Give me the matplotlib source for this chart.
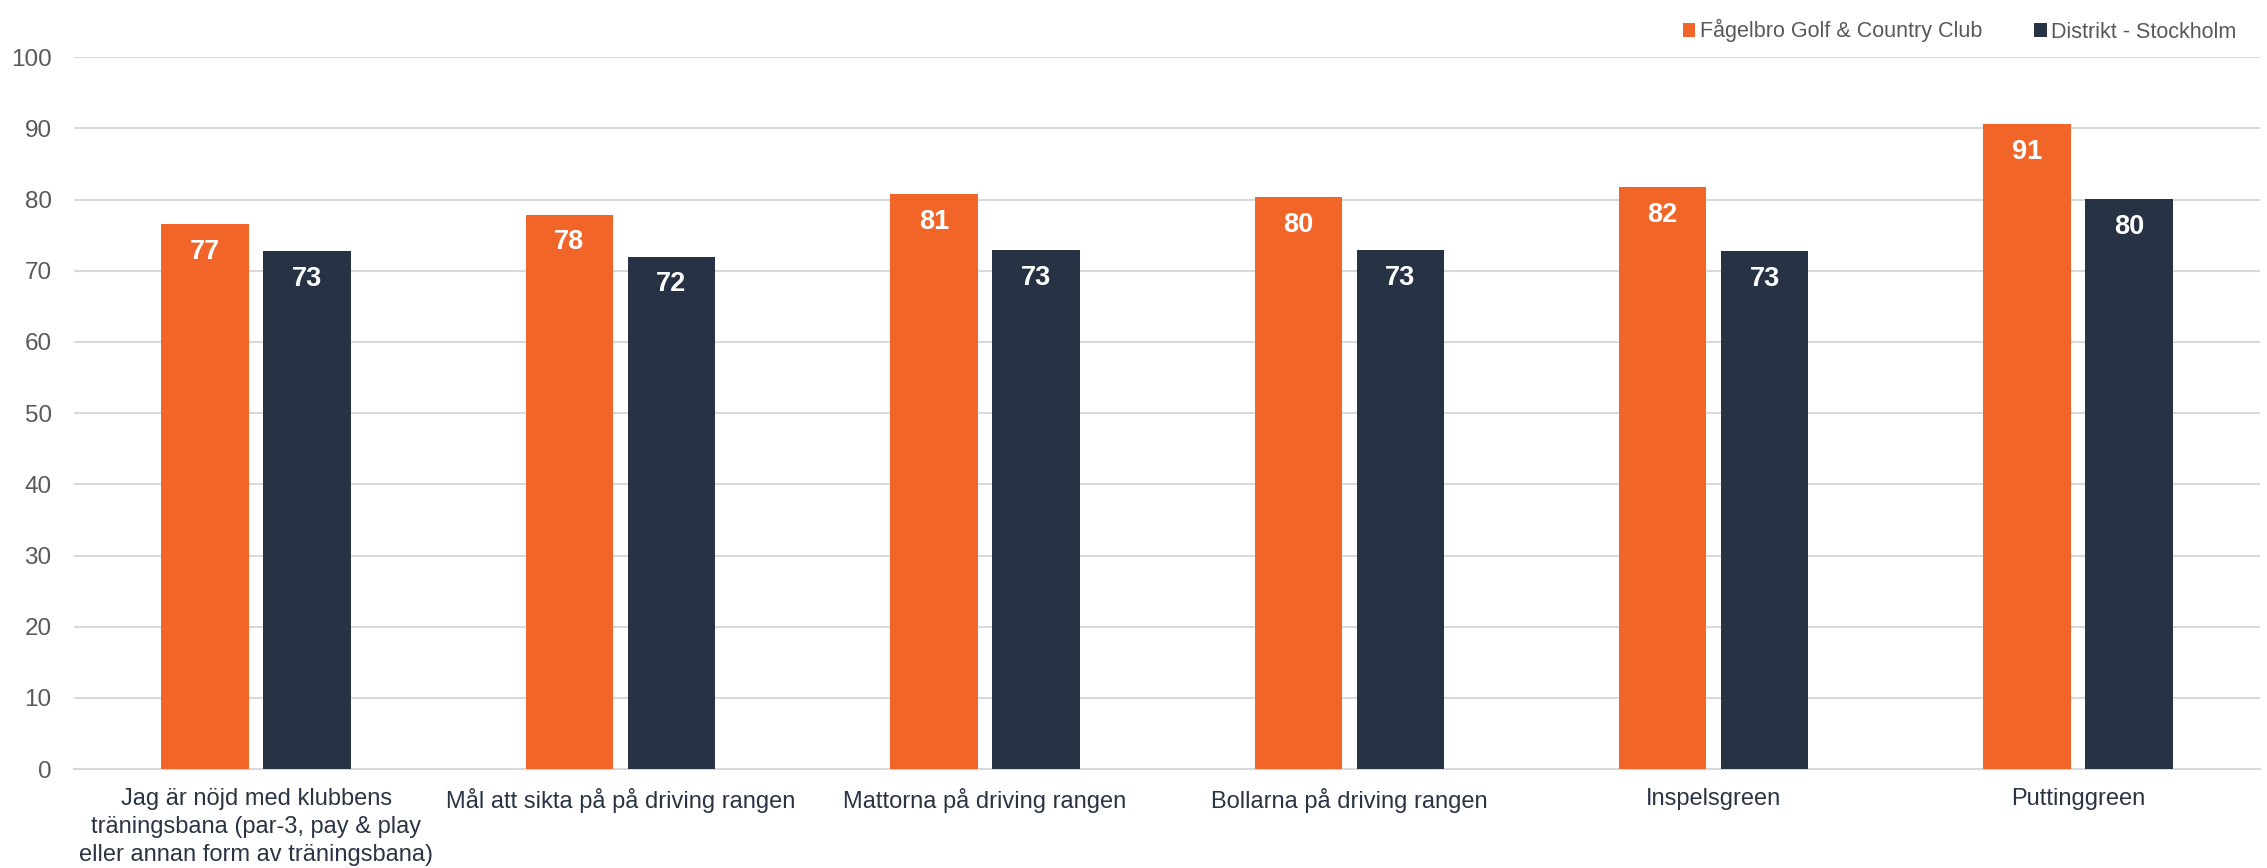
import matplotlib.pyplot as plt
import numpy as np

plt.rcParams['font.family'] = ['Liberation Sans', 'DejaVu Sans']

categories = [
    'Jag är nöjd med klubbens\nträningsbana (par-3, pay & play\neller annan form av träningsbana)',
    'Mål att sikta på på driving rangen',
    'Mattorna på driving rangen',
    'Bollarna på driving rangen',
    'Inspelsgreen',
    'Puttinggreen',
]
club = [76.6, 77.9, 80.8, 80.4, 81.8, 90.6]
district = [72.8, 72.0, 72.9, 72.9, 72.8, 80.1]
series_names = ['Fågelbro Golf & Country Club', 'Distrikt - Stockholm']

orange = '#F26529'
navy = '#273345'

fig = plt.figure(figsize=(22.67, 8.68), dpi=100)
ax = fig.add_axes([0.0326, 0.114, 0.9644, 0.82])

x = np.arange(len(categories))
w = 0.24
b1 = ax.bar(x - 0.14, club, w, color=orange, label=series_names[0], zorder=3)
b2 = ax.bar(x + 0.14, district, w, color=navy, label=series_names[1], zorder=3)

# value labels inside the bar tops
for bars, vals in [(b1, club), (b2, district)]:
    for rect, v in zip(bars, vals):
        ax.text(rect.get_x() + rect.get_width() / 2, v - 3.9, f'{v:.0f}',
                ha='center', va='center', color='white', fontsize=19.5,
                fontweight='bold', zorder=4)

ax.set_xlim(-0.5, len(categories) - 0.5)
ax.set_ylim(0, 100)
ax.set_yticks(range(0, 101, 10))
ax.yaxis.grid(True, color='#d9d9d9', linewidth=1.5, zorder=0)
for s in ['top', 'right', 'left']:
    ax.spines[s].set_visible(False)
ax.spines['bottom'].set_color('#d9d9d9')
ax.spines['bottom'].set_linewidth(1.5)
ax.tick_params(axis='both', length=0)
ax.tick_params(axis='y', labelsize=17.5, labelcolor='#595959', pad=16)
ax.tick_params(axis='x', labelsize=17, labelcolor='#2a3444', pad=14)
ax.set_xticks(x)
ax.set_xticklabels(categories, linespacing=1.35)

fig.legend(loc='upper right', bbox_to_anchor=(0.995, 1.0), ncol=2, frameon=False,
           fontsize=15.5, labelcolor='#595959', handlelength=0.6, handleheight=0.6,
           handletextpad=0.2, columnspacing=2.4)

fig.savefig('out.png', dpi=100)
